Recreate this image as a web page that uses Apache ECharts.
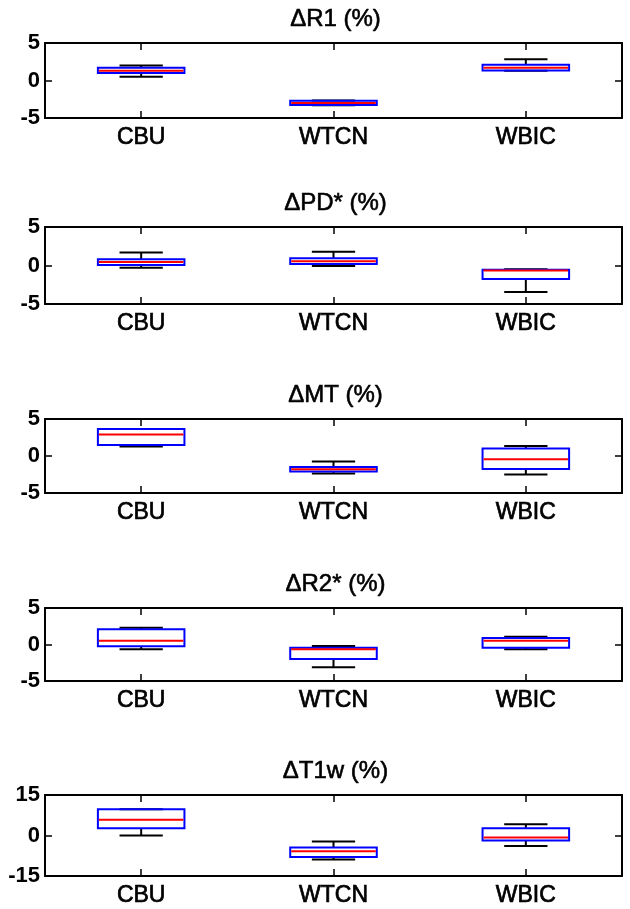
<!DOCTYPE html>
<html>
<head>
<meta charset="utf-8">
<script src="https://cdn.jsdelivr.net/npm/echarts@6/dist/echarts.min.js"></script>
<style>
html,body{margin:0;padding:0;background:#fff;}
#chart{width:630px;height:909px;}
</style>
</head>
<body>
<div id="chart"></div>
<script>
// ---- data ----
const categories = ['CBU', 'WTCN', 'WBIC'];
const titles = ['\u0394R1 (%)', '\u0394PD* (%)', '\u0394MT (%)', '\u0394R2* (%)', '\u0394T1w (%)'];
// each box: [lower whisker, Q1, median, Q3, upper whisker]
const r1Data  = [[0.5, 1.0, 1.3, 1.7, 2.0], [-3.3, -3.25, -3.0, -2.7, -2.65], [1.3, 1.35, 1.7, 2.1, 2.85]];
const pdData  = [[-0.3, 0.05, 0.45, 0.8, 1.7], [-0.05, 0.2, 0.55, 0.95, 1.8], [-3.45, -1.75, -0.65, -0.55, -0.5]];
const mtData  = [[1.3, 1.5, 2.9, 3.65, 3.65], [-2.35, -2.1, -1.8, -1.5, -0.75], [-2.5, -1.75, -0.45, 1.0, 1.35]];
const r2Data  = [[-0.65, -0.25, 0.5, 2.1, 2.3], [-3.1, -2.0, -0.65, -0.45, -0.2], [-0.65, -0.45, 0.5, 0.9, 1.05]];
const t1wData = [[0, 2.7, 5.8, 9.7, 9.7], [-8.9, -8.0, -5.8, -4.4, -2.2], [-3.9, -1.85, -0.75, 2.7, 4.2]];
const panelData = [r1Data, pdData, mtData, r2Data, t1wData];
const yLimits = [5, 5, 5, 5, 15];

// ---- layout ----
const gridTops = [43, 227, 419, 608, 795];
const gridHeights = [75, 77, 74, 73, 81];
const gridLeft = 45, gridRight = 8;
const FONT = '"Liberation Sans", Arial, Helvetica, sans-serif';

const chart = echarts.init(document.getElementById('chart'), null, {renderer: 'canvas'});

const grids = [], xAxes = [], yAxes = [], series = [], titleList = [];
const axisLineStyle = {show: true, onZero: false, lineStyle: {color: '#000', width: 2}};
const tickStyle = {show: true, inside: true, length: 7, lineStyle: {color: '#000', width: 1.5}};

panelData.forEach(function (boxes, k) {
  grids.push({left: gridLeft, right: gridRight, top: gridTops[k], height: gridHeights[k], containLabel: false});
  titleList.push({
    text: titles[k],
    left: gridLeft + (630 - gridLeft - gridRight) / 2 - 3,
    top: gridTops[k] - 41,
    textAlign: 'center',
    textStyle: {fontFamily: FONT, fontSize: 24, fontWeight: 'normal', color: '#000',
      textBorderColor: '#000', textBorderWidth: 0.6}
  });
  xAxes.push({
    type: 'category', gridIndex: k, data: categories, position: 'bottom',
    boundaryGap: true,
    axisLine: axisLineStyle,
    axisTick: Object.assign({alignWithLabel: true}, tickStyle),
    axisLabel: {fontFamily: FONT, fontSize: 23, fontWeight: 'normal', color: '#000', margin: 8,
      textBorderColor: '#000', textBorderWidth: 0.7},
    splitLine: {show: false}
  });
  xAxes.push({
    type: 'category', gridIndex: k, data: categories, position: 'top',
    boundaryGap: true,
    axisLine: axisLineStyle,
    axisTick: Object.assign({alignWithLabel: true}, tickStyle),
    axisLabel: {show: false},
    splitLine: {show: false}
  });
  const lim = yLimits[k];
  yAxes.push({
    type: 'value', gridIndex: k, min: -lim, max: lim, interval: lim, position: 'left',
    axisLine: axisLineStyle, axisTick: tickStyle,
    axisLabel: {fontFamily: FONT, fontSize: 22, fontWeight: 'bold', color: '#000', margin: 5},
    splitLine: {show: false}
  });
  yAxes.push({
    type: 'value', gridIndex: k, min: -lim, max: lim, interval: lim, position: 'right',
    axisLine: axisLineStyle, axisTick: tickStyle,
    axisLabel: {show: false},
    splitLine: {show: false}
  });
  series.push({
    type: 'custom',
    xAxisIndex: 2 * k, yAxisIndex: 2 * k,
    data: boxes.map(function (b, i) { return [i].concat(b); }),
    encode: {x: 0, y: [1, 2, 3, 4, 5]},
    renderItem: function (params, api) {
      const xi = api.value(0);
      const bw = api.size([1, 0])[0] * 0.45;
      const cw = bw * 0.5;
      const pMin = api.coord([xi, api.value(1)]);
      const pQ1 = api.coord([xi, api.value(2)]);
      const pMed = api.coord([xi, api.value(3)]);
      const pQ3 = api.coord([xi, api.value(4)]);
      const pMax = api.coord([xi, api.value(5)]);
      const cx = pMed[0];
      const black = {stroke: '#000', lineWidth: 2};
      return {
        type: 'group',
        children: [
          {type: 'line', shape: {x1: cx, y1: pQ3[1], x2: cx, y2: pMax[1]}, style: black},
          {type: 'line', shape: {x1: cx, y1: pQ1[1], x2: cx, y2: pMin[1]}, style: black},
          {type: 'line', shape: {x1: cx - cw / 2, y1: pMax[1], x2: cx + cw / 2, y2: pMax[1]}, style: black},
          {type: 'line', shape: {x1: cx - cw / 2, y1: pMin[1], x2: cx + cw / 2, y2: pMin[1]}, style: black},
          {type: 'rect', shape: {x: cx - bw / 2, y: pQ3[1], width: bw, height: pQ1[1] - pQ3[1]},
            style: {fill: 'none', stroke: '#0000ff', lineWidth: 2}},
          {type: 'line', shape: {x1: cx - bw / 2 + 1, y1: pMed[1], x2: cx + bw / 2 - 1, y2: pMed[1]},
            style: {stroke: '#ff0000', lineWidth: 2}}
        ]
      };
    }
  });
});

chart.setOption({
  backgroundColor: '#fff',
  animation: false,
  title: titleList,
  grid: grids,
  xAxis: xAxes,
  yAxis: yAxes,
  series: series
});
</script>
</body>
</html>
